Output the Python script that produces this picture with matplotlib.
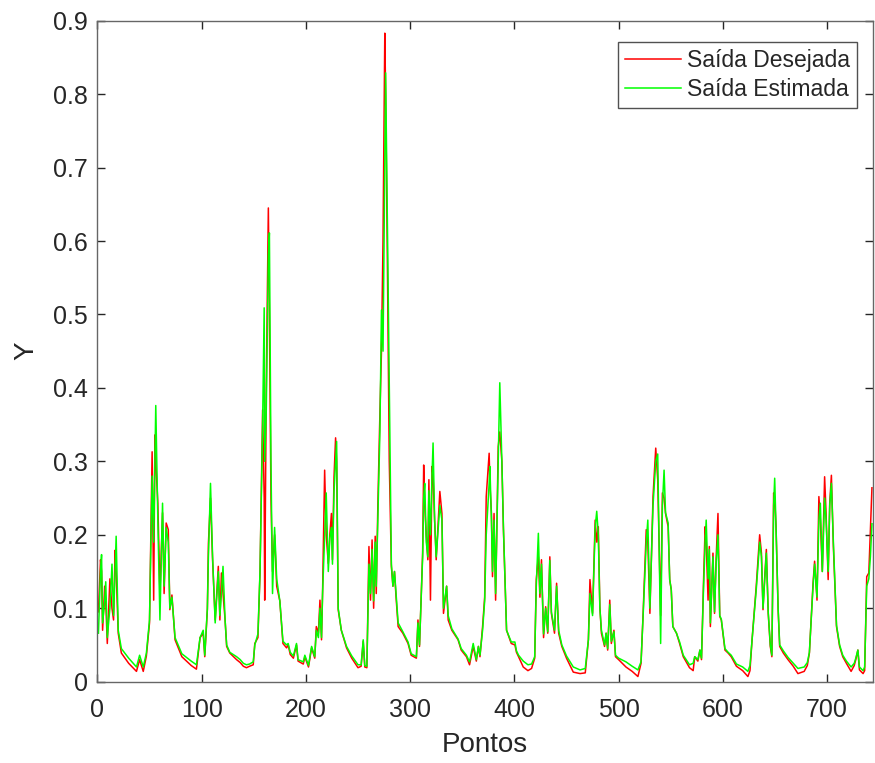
import matplotlib.pyplot as plt
from matplotlib.ticker import FormatStrFormatter

# pontos (x, saida desejada, saida estimada)
pontos = [1, 3, 4, 5, 7, 8, 9.5, 12, 14, 15.5, 17, 18, 20, 23, 30, 37.5, 40.5, 44, 47, 50,
          52.5, 54, 55.2, 56, 58, 60, 62.5, 64, 66, 68, 69.5, 71.5, 74.5, 81, 90, 95, 98.5,
          101.5, 103, 105.5, 106.5, 108.5, 110.5, 113, 116, 117.5, 119, 120.5, 122.5, 124,
          127, 133.5, 137, 140, 143, 146, 149.5, 151, 154, 156, 158.5, 160, 160.5, 162, 164,
          165, 166.5, 168, 170, 172, 175, 178, 181.5, 183, 185, 188, 191, 192.5, 197.5, 199,
          202.5, 205.5, 208.5, 210, 212, 213.5, 215, 216, 218, 219.5, 221.5, 223, 224.5,
          225.5, 227, 228.5, 229.5, 231, 234, 239, 244, 250, 253, 255, 256.5, 258.5, 260.5,
          262, 263.5, 265, 266.5, 267.5, 269, 271, 272.5, 274, 275.7, 276.5, 278, 280, 282,
          283.5, 285, 286.5, 288.5, 293, 298, 301, 306, 307.5, 309, 312, 313, 314, 315.5, 317,
          318, 319.5, 321, 322, 323.5, 325, 328.5, 330.5, 332, 335, 336.5, 340, 346, 349, 354,
          357, 360.5, 363.5, 365.5, 367, 369.5, 371.5, 373, 375.8, 376.5, 378, 379, 380.5,
          382, 384.5, 386, 388, 389.5, 391, 392.5, 397, 400.5, 402, 404, 408.5, 413, 416.5,
          419.5, 421, 423, 424.5, 426, 428, 430, 432, 434, 435.5, 438.5, 440.5, 442.5, 445.5,
          450, 456.5, 463, 468, 471, 472.5, 475, 477.5, 479, 480.5, 482, 483.5, 486.5, 488,
          489.5, 491.5, 493, 495.5, 497, 500, 507, 513, 518.5, 521.5, 523.5, 526.5, 528, 530,
          533, 535.6, 537.5, 540.3, 542, 543.6, 545, 547.5, 549, 550.5, 552, 555.5, 558.5,
          562, 568, 571.5, 573, 576, 578, 579.5, 581.5, 583, 584, 585.8, 587, 588, 590.5, 592,
          593.5, 595.3, 597, 598.5, 602, 605, 608, 613, 619, 624, 626, 628, 630.5, 632, 635.3,
          637, 638.5, 640, 641.7, 643.5, 645.5, 647, 648.7, 649.7, 651, 653, 654.5, 658,
          662.5, 667.5, 672, 678, 681, 683, 686.5, 688, 690.3, 692.1, 693.5, 695.4, 697.6,
          699, 701, 702.5, 704.1, 706, 709, 712, 715, 718.5, 723, 726, 727.5, 729.5, 731,
          734.5, 736, 738, 740, 741.5, 743]

desejada = [0.095, 0.166, 0.150, 0.07, 0.13, 0.11, 0.052, 0.14, 0.10, 0.084, 0.179, 0.15, 0.066,
            0.039, 0.025, 0.014, 0.03, 0.014, 0.035, 0.08, 0.313, 0.111, 0.336, 0.30, 0.243,
            0.12, 0.23, 0.12, 0.216, 0.207, 0.098, 0.118, 0.057, 0.034, 0.022, 0.017, 0.06,
            0.066, 0.034, 0.098, 0.188, 0.25, 0.166, 0.084, 0.157, 0.084, 0.148, 0.12, 0.084,
            0.048, 0.039, 0.030, 0.026, 0.021, 0.019, 0.021, 0.023, 0.052, 0.06, 0.148, 0.37,
            0.25, 0.111, 0.40, 0.645, 0.50, 0.25, 0.15, 0.20, 0.13, 0.110, 0.052, 0.046, 0.050,
            0.037, 0.032, 0.050, 0.028, 0.024, 0.034, 0.020, 0.046, 0.032, 0.075, 0.066, 0.111,
            0.057, 0.12, 0.288, 0.20, 0.161, 0.20, 0.229, 0.166, 0.279, 0.332, 0.30, 0.098,
            0.070, 0.046, 0.032, 0.019, 0.021, 0.055, 0.02, 0.019, 0.184, 0.111, 0.193, 0.10,
            0.198, 0.12, 0.238, 0.365, 0.45, 0.60, 0.883, 0.80, 0.60, 0.30, 0.157, 0.130,
            0.150, 0.115, 0.075, 0.066, 0.052, 0.036, 0.032, 0.084, 0.048, 0.175, 0.295, 0.24,
            0.198, 0.166, 0.275, 0.111, 0.293, 0.28, 0.22, 0.166, 0.259, 0.229, 0.093, 0.130,
            0.084, 0.070, 0.057, 0.043, 0.034, 0.023, 0.048, 0.028, 0.048, 0.034, 0.075, 0.115,
            0.252, 0.311, 0.27, 0.229, 0.143, 0.229, 0.111, 0.320, 0.34, 0.30, 0.207, 0.139,
            0.070, 0.052, 0.050, 0.04, 0.034, 0.020, 0.015, 0.018, 0.032, 0.139, 0.17, 0.115,
            0.166, 0.060, 0.102, 0.066, 0.170, 0.093, 0.066, 0.134, 0.066, 0.048, 0.032, 0.013,
            0.011, 0.012, 0.057, 0.139, 0.093, 0.220, 0.19, 0.211, 0.102, 0.066, 0.048, 0.066,
            0.043, 0.111, 0.052, 0.070, 0.034, 0.030, 0.020, 0.014, 0.007, 0.025, 0.093, 0.207,
            0.19, 0.093, 0.252, 0.318, 0.275, 0.09, 0.257, 0.25, 0.229, 0.211, 0.139, 0.125,
            0.075, 0.066, 0.052, 0.034, 0.019, 0.015, 0.034, 0.028, 0.043, 0.030, 0.139, 0.211,
            0.19, 0.111, 0.184, 0.075, 0.175, 0.093, 0.166, 0.229, 0.089, 0.084, 0.043, 0.039,
            0.034, 0.021, 0.015, 0.007, 0.015, 0.057, 0.102, 0.130, 0.200, 0.175, 0.098, 0.139,
            0.180, 0.093, 0.048, 0.034, 0.257, 0.25, 0.211, 0.098, 0.048, 0.039, 0.030, 0.021,
            0.011, 0.014, 0.022, 0.039, 0.134, 0.164, 0.111, 0.252, 0.22, 0.150, 0.279, 0.229,
            0.139, 0.243, 0.281, 0.184, 0.075, 0.048, 0.034, 0.025, 0.014, 0.022, 0.030, 0.043,
            0.016, 0.011, 0.015, 0.143, 0.148, 0.207, 0.264]

estimada = [0.066, 0.150, 0.173, 0.08, 0.11, 0.136, 0.06, 0.10, 0.16, 0.09, 0.15, 0.198, 0.07,
            0.045, 0.032, 0.020, 0.036, 0.02, 0.039, 0.084, 0.28, 0.19, 0.30, 0.376, 0.22,
            0.084, 0.243, 0.13, 0.21, 0.19, 0.10, 0.115, 0.06, 0.038, 0.028, 0.023, 0.06, 0.07,
            0.036, 0.10, 0.17, 0.270, 0.17, 0.08, 0.15, 0.09, 0.12, 0.157, 0.084, 0.05, 0.04,
            0.034, 0.03, 0.025, 0.023, 0.024, 0.027, 0.05, 0.065, 0.15, 0.35, 0.509, 0.30, 0.37,
            0.58, 0.611, 0.30, 0.12, 0.21, 0.14, 0.11, 0.055, 0.05, 0.052, 0.04, 0.035, 0.052,
            0.03, 0.027, 0.036, 0.022, 0.048, 0.034, 0.07, 0.06, 0.10, 0.06, 0.12, 0.20, 0.257,
            0.15, 0.196, 0.21, 0.16, 0.26, 0.30, 0.327, 0.10, 0.07, 0.048, 0.035, 0.023, 0.023,
            0.057, 0.022, 0.021, 0.16, 0.12, 0.18, 0.11, 0.19, 0.13, 0.22, 0.34, 0.506, 0.45,
            0.70, 0.829, 0.65, 0.40, 0.16, 0.13, 0.15, 0.12, 0.08, 0.068, 0.054, 0.038, 0.034,
            0.08, 0.05, 0.17, 0.25, 0.270, 0.19, 0.17, 0.26, 0.20, 0.28, 0.325, 0.22, 0.17,
            0.24, 0.22, 0.10, 0.13, 0.09, 0.072, 0.058, 0.045, 0.036, 0.027, 0.052, 0.03, 0.048,
            0.036, 0.07, 0.11, 0.20, 0.27, 0.293, 0.22, 0.15, 0.22, 0.12, 0.30, 0.407, 0.30,
            0.21, 0.14, 0.07, 0.054, 0.054, 0.042, 0.036, 0.028, 0.023, 0.024, 0.034, 0.13,
            0.202, 0.12, 0.16, 0.065, 0.10, 0.068, 0.165, 0.095, 0.07, 0.13, 0.07, 0.05, 0.035,
            0.020, 0.016, 0.018, 0.057, 0.12, 0.09, 0.21, 0.232, 0.20, 0.10, 0.07, 0.05, 0.066,
            0.045, 0.105, 0.055, 0.068, 0.036, 0.032, 0.027, 0.021, 0.016, 0.027, 0.09, 0.19,
            0.220, 0.10, 0.24, 0.30, 0.310, 0.052, 0.24, 0.288, 0.23, 0.216, 0.139, 0.125,
            0.075, 0.066, 0.054, 0.036, 0.023, 0.025, 0.034, 0.030, 0.043, 0.032, 0.13, 0.19,
            0.220, 0.14, 0.18, 0.08, 0.17, 0.095, 0.16, 0.20, 0.09, 0.085, 0.045, 0.04, 0.036,
            0.024, 0.020, 0.014, 0.022, 0.057, 0.10, 0.125, 0.19, 0.17, 0.10, 0.135, 0.175,
            0.095, 0.05, 0.036, 0.24, 0.277, 0.21, 0.10, 0.05, 0.042, 0.033, 0.025, 0.018,
            0.020, 0.026, 0.04, 0.13, 0.16, 0.115, 0.22, 0.243, 0.15, 0.25, 0.22, 0.15, 0.24,
            0.27, 0.19, 0.077, 0.05, 0.036, 0.028, 0.020, 0.025, 0.032, 0.043, 0.02, 0.015,
            0.02, 0.13, 0.14, 0.17, 0.215]

plt.rcParams['font.family'] = ['Liberation Sans', 'DejaVu Sans']
cinza = '#262626'

fig = plt.figure(figsize=(8.75, 7.63), dpi=100)
ax = fig.add_axes([0.1113, 0.1066, 0.8864, 0.8663])
ax.plot(pontos, desejada, color='#ff0000', linewidth=1.1, label='Saída Desejada')
ax.plot(pontos, estimada, color='#00ff00', linewidth=1.1, label='Saída Estimada')

ax.set_xlim(0, 744)
ax.set_ylim(0, 0.9)
ax.set_xticks(range(0, 701, 100))
ax.set_yticks([i / 10 for i in range(10)])
ax.yaxis.set_major_formatter(FormatStrFormatter('%g'))
ax.tick_params(direction='in', length=6, width=1, colors=cinza, labelsize=18,
               top=True, right=True, labelcolor=cinza)
ax.tick_params(axis='y', pad=7)
ax.tick_params(axis='x', pad=12)
for s in ax.spines.values():
    s.set_color('#666666')
    s.set_linewidth(1)

ax.set_xlabel('Pontos', fontsize=20, color=cinza, labelpad=7)
ax.set_ylabel('Y', fontsize=20, color=cinza, labelpad=10)

leg = ax.legend(loc='upper right', bbox_to_anchor=(0.979, 0.967), borderaxespad=0,
                fontsize=16.5, fancybox=False, edgecolor=cinza, handlelength=2.45,
                handletextpad=0.25, borderpad=0.3, labelspacing=0.25)
leg.get_frame().set_linewidth(1)
for t in leg.get_texts():
    t.set_color(cinza)

plt.savefig('out.png', dpi=100)
